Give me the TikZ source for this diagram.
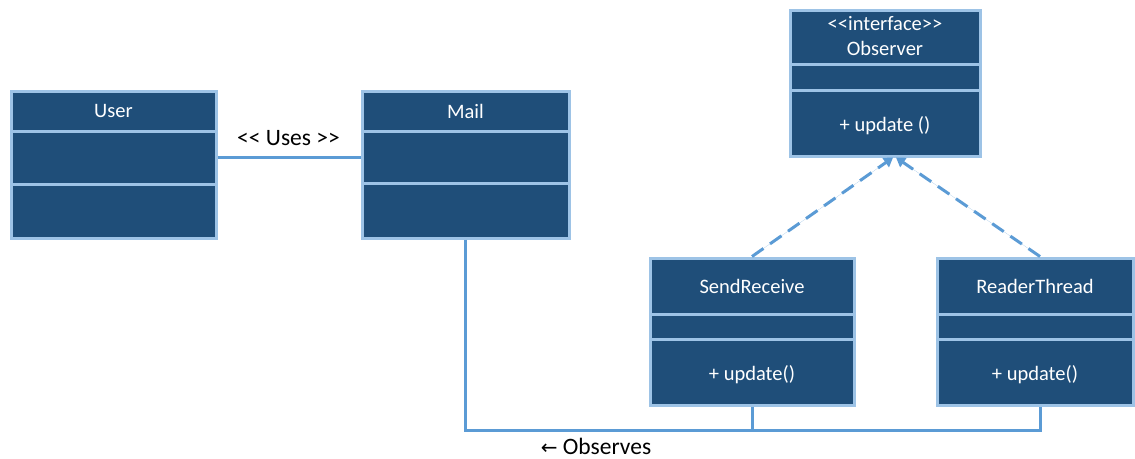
\documentclass[tikz,border=0pt]{standalone}
\usepackage{fontspec}
\setmainfont{Carlito}
\newfontfamily\symfont{DejaVu Sans}
\usetikzlibrary{arrows.meta}
\definecolor{boxfill}{HTML}{1F4E79}
\definecolor{boxline}{HTML}{9DC3E6}
\definecolor{conn}{HTML}{5B9BD5}
\newcommand{\ltlt}{<\kern0pt<}
\newcommand{\gtgt}{>\kern0pt>}
\begin{document}
\begin{tikzpicture}[x=1pt,y=-1pt,
  cls/.style={draw=boxline, fill=boxfill, line width=3pt, rectangle, inner sep=0pt},
  divider/.style={draw=boxline, line width=3pt},
  ctext/.style={text=white, font=\fontsize{20.5}{24}\selectfont, inner sep=0pt},
  lbl/.style={text=black, font=\fontsize{23.5}{28}\selectfont, inner sep=0pt},
  link/.style={draw=conn, line width=3pt},
  realize/.style={draw=conn, line width=3pt, dash pattern=on 14pt off 8pt,
    -{Triangle[width=11pt,length=9pt]}, fill=conn}]
\useasboundingbox (0,0) rectangle (1135,458);
% User
\node[cls, minimum width=205pt, minimum height=147pt] (user) at (113.5,164.5) {};
\draw[divider] (11,131) -- (216,131);
\draw[divider] (11,184) -- (216,184);
\node[ctext] (usert) at (113.5,111) {User};
% Mail
\node[cls, minimum width=207pt, minimum height=147pt] (mail) at (465.5,164.5) {};
\draw[divider] (362,131) -- (569,131);
\draw[divider] (362,183) -- (569,183);
\node[ctext] (mailt) at (465.5,111) {Mail};
% Observer
\node[cls, minimum width=190pt, minimum height=146pt] (obs) at (885,83) {};
\draw[divider] (790,64) -- (980,64);
\draw[divider] (790,90) -- (980,90);
\node[ctext] (obst1) at (885,24) {\ltlt interface\gtgt};
\node[ctext] (obst2) at (885,48) {Observer};
\node[ctext] (obst3) at (885,126) {+ update ()};
% SendReceive
\node[cls, minimum width=204pt, minimum height=147pt] (sr) at (752,331.5) {};
\draw[divider] (650,314) -- (854,314);
\draw[divider] (650,339) -- (854,339);
\node[ctext] (srt1) at (752,286) {SendReceive};
\node[ctext] (srt2) at (752,375) {+ update()};
% ReaderThread
\node[cls, minimum width=196pt, minimum height=147pt] (rt) at (1035,331.5) {};
\draw[divider] (937,314) -- (1133,314);
\draw[divider] (937,339) -- (1133,339);
\node[ctext] (rtt1) at (1035,286) {ReaderThread};
\node[ctext] (rtt2) at (1035,375) {+ update()};
% Uses
\draw[link] ([yshift=7.5pt]user.east) -- ([yshift=7.5pt]mail.west);
\node[lbl] (uses) at (288.5,138) {\ltlt{} Uses \gtgt};
% Realizations
\draw[realize] (sr.north) -- ([xshift=8pt]obs.south);
\draw[realize] ([xshift=5pt]rt.north) -- ([xshift=11pt]obs.south);
% Observes
\coordinate (bl) at (465.5,430);
\coordinate (br) at (1040,430);
\coordinate (bm) at (752,430);
\draw[link] (mail.south) -- (bl) -- (br) -- ([xshift=5pt]rt.south);
\draw[link] (sr.south) -- (bm);
\node[lbl] (obsl) at (596,446) {{\symfont\fontsize{20}{24}\selectfont ←} Observes};
\end{tikzpicture}
\end{document}
